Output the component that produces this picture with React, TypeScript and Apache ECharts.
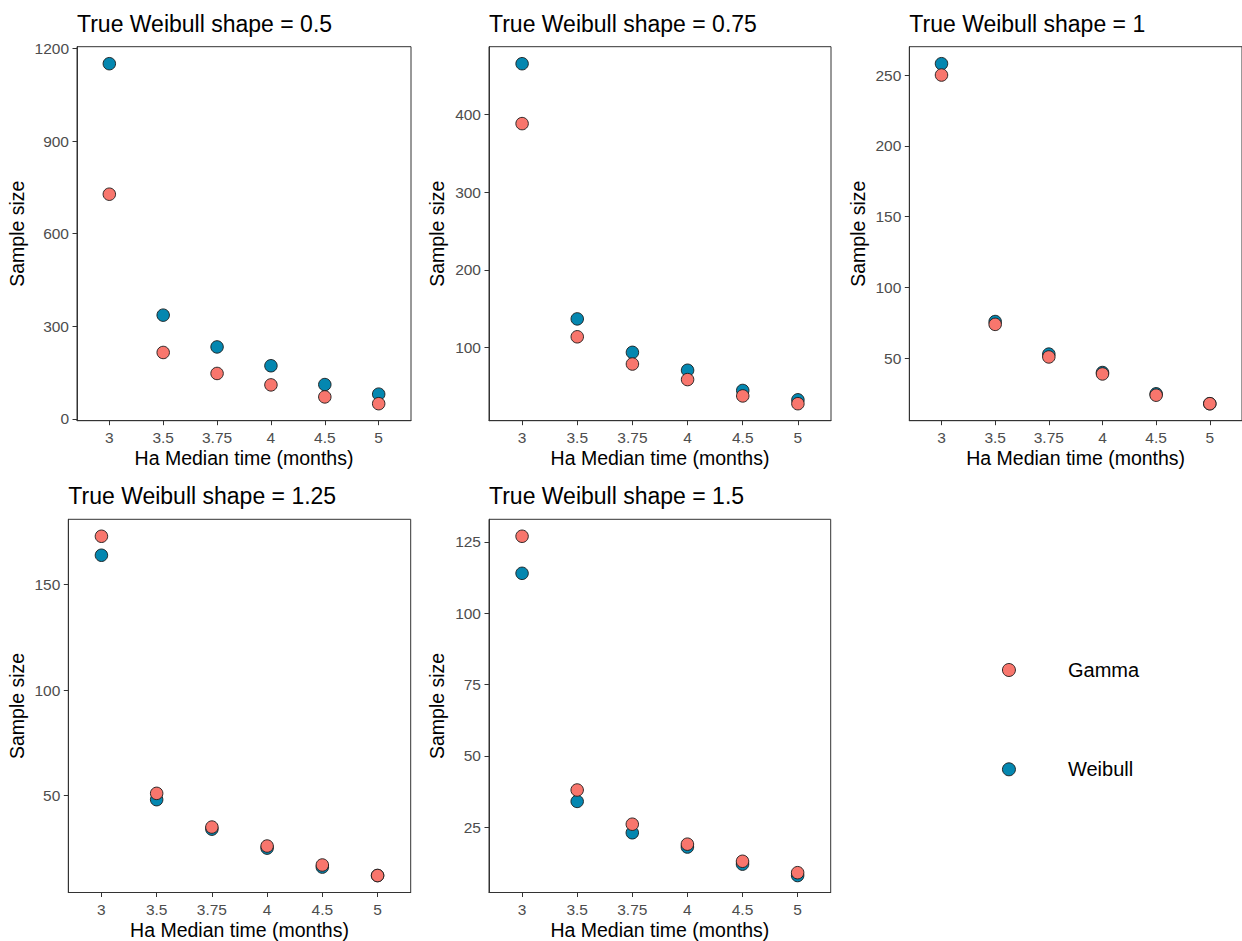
import React, { useEffect, useRef } from "react";
import * as echarts from "echarts";

const categories = ["3", "3.5", "3.75", "4", "4.5", "5"];
const shapeLabels = ["0.5", "0.75", "1", "1.25", "1.5"];

const gamma05 = [728, 215, 147, 110, 71, 49];
const weibull05 = [1151, 336, 233, 172, 111, 80];
const gamma075 = [388, 114, 79, 59, 38, 28];
const weibull075 = [465, 137, 94, 71, 45, 33];
const gamma1 = [250, 74, 51, 39, 24, 18];
const weibull1 = [258, 76, 53, 40, 25, 18];
const gamma125 = [173, 51, 35, 26, 17, 12];
const weibull125 = [164, 48, 34, 25, 16, 12];
const gamma15 = [127, 38, 26, 19, 13, 9];
const weibull15 = [114, 34, 23, 18, 12, 8];

const yTicks05 = [0, 300, 600, 900, 1200];
const yTicks075 = [100, 200, 300, 400];
const yTicks1 = [50, 100, 150, 200, 250];
const yTicks125 = [50, 100, 150];
const yTicks15 = [25, 50, 75, 100, 125];

const panels = [
  { shape: shapeLabels[0], gamma: gamma05, weibull: weibull05, ticks: yTicks05 },
  { shape: shapeLabels[1], gamma: gamma075, weibull: weibull075, ticks: yTicks075 },
  { shape: shapeLabels[2], gamma: gamma1, weibull: weibull1, ticks: yTicks1 },
  { shape: shapeLabels[3], gamma: gamma125, weibull: weibull125, ticks: yTicks125 },
  { shape: shapeLabels[4], gamma: gamma15, weibull: weibull15, ticks: yTicks15 },
];

// layout (pixels)
const layout = [
  { left: 77, top: 46.7, width: 334, height: 374, nameGap: 49.75 },
  { left: 489, top: 46.7, width: 342, height: 374, nameGap: 41.75 },
  { left: 909.3, top: 46.7, width: 342.6, height: 374, nameGap: 41.3 },
  { left: 68.3, top: 519.3, width: 342.4, height: 375.4, nameGap: 41.5 },
  { left: 489, top: 519.3, width: 341.7, height: 375.4, nameGap: 41.75 },
];

const FONT = "'Liberation Sans', Arial, Helvetica, sans-serif";
const GAMMA_COLOR = "#F8766D";
const WEIBULL_COLOR = "#0487B0";

export default function App() {
  const ref = useRef<HTMLDivElement>(null);

  useEffect(() => {
    if (!ref.current) return;
    const chart = echarts.init(ref.current, undefined, { renderer: "svg" });

    const grids: any[] = [];
    const xAxes: any[] = [];
    const yAxes: any[] = [];
    const titles: any[] = [];
    const series: any[] = [];
    const idx = categories.map((_, i) => i);

    panels.forEach((p, i) => {
      const L = layout[i];
      grids.push({
        left: L.left,
        top: L.top,
        width: L.width,
        height: L.height,
        show: true,
        borderColor: "#333333",
        borderWidth: 1,
        backgroundColor: "#ffffff",
        containLabel: false,
      });
      titles.push({
        text: "True Weibull shape = " + p.shape,
        left: L.left,
        top: L.top - 34.5,
        padding: 0,
        textStyle: { fontFamily: FONT, fontSize: 23, fontWeight: "normal", color: "#000" },
      });
      xAxes.push({
        type: "value",
        gridIndex: i,
        min: -0.6,
        max: categories.length - 1 + 0.6,
        name: "Ha Median time (months)",
        nameLocation: "middle",
        nameGap: 27.5,
        nameTextStyle: { fontFamily: FONT, fontSize: 19.5, color: "#000" },
        axisLine: { show: true, onZero: false, lineStyle: { color: "#333333", width: 1 } },
        axisTick: { show: true, length: 4.5, customValues: idx, lineStyle: { color: "#333333", width: 1 } },
        axisLabel: {
          show: true,
          customValues: idx,
          formatter: (v: number) => categories[Math.round(v)],
          color: "#4D4D4D",
          fontFamily: FONT,
          fontSize: 15.5,
          margin: 9,
        },
        splitLine: { show: false },
      });
      const all = p.gamma.concat(p.weibull);
      const dmin = Math.min(...all);
      const dmax = Math.max(...all);
      const pad = (dmax - dmin) * 0.05;
      yAxes.push({
        type: "value",
        gridIndex: i,
        min: dmin - pad,
        max: dmax + pad,
        name: "Sample size",
        nameLocation: "middle",
        nameGap: L.nameGap,
        nameTextStyle: { fontFamily: FONT, fontSize: 19.5, color: "#000" },
        axisLine: { show: true, onZero: false, lineStyle: { color: "#333333", width: 1 } },
        axisTick: { show: true, length: 4.5, customValues: p.ticks, lineStyle: { color: "#333333", width: 1 } },
        axisLabel: {
          show: true,
          customValues: p.ticks,
          formatter: (v: number) => String(v),
          color: "#4D4D4D",
          fontFamily: FONT,
          fontSize: 15.5,
          margin: 8,
        },
        splitLine: { show: false },
      });
      series.push({
        type: "scatter",
        name: "Weibull",
        xAxisIndex: i,
        yAxisIndex: i,
        symbol: "circle",
        symbolSize: 12.5,
        itemStyle: { color: WEIBULL_COLOR, borderColor: "#1a1a1a", borderWidth: 0.9, opacity: 1 },
        data: p.weibull.map((v, j) => [j, v]),
      });
      series.push({
        type: "scatter",
        name: "Gamma",
        xAxisIndex: i,
        yAxisIndex: i,
        symbol: "circle",
        symbolSize: 12.5,
        itemStyle: { color: GAMMA_COLOR, borderColor: "#1a1a1a", borderWidth: 0.9, opacity: 1 },
        data: p.gamma.map((v, j) => [j, v]),
      });
    });

    chart.setOption({
      animation: false,
      backgroundColor: "#ffffff",
      title: titles,
      grid: grids,
      xAxis: xAxes,
      yAxis: yAxes,
      series,
      legend: {
        orient: "vertical",
        left: 1002,
        top: 660,
        padding: 0,
        itemWidth: 108,
        itemHeight: 13,
        itemGap: 79.3,
        data: ["Gamma", "Weibull"],
        itemStyle: { borderColor: "#1a1a1a", borderWidth: 0.9 },
        textStyle: { fontFamily: FONT, fontSize: 20, color: "#000" },
        selectedMode: false,
      },
    });

    return () => chart.dispose();
  }, []);

  return (
    <div
      ref={ref}
      style={{ position: "absolute", left: 0, top: 0, width: 1242, height: 941, background: "#fff" }}
    />
  );
}
